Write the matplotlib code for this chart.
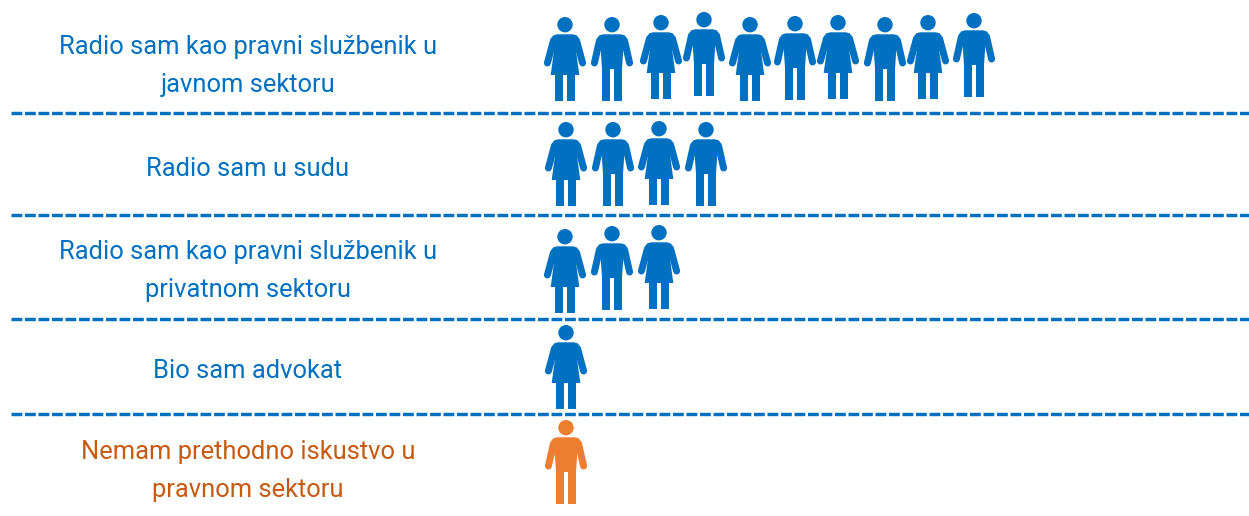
import matplotlib
matplotlib.use('Agg')
import matplotlib.pyplot as plt
from matplotlib.patches import Circle, Polygon

# 데이터
labels = ['Radio sam kao pravni službenik u\njavnom sektoru',
          'Radio sam u sudu',
          'Radio sam kao pravni službenik u\nprivatnom sektoru',
          'Bio sam advokat',
          'Nemam prethodno iskustvo u\npravnom sektoru']
counts = [10, 4, 3, 1, 1]

# 레이아웃 (픽셀 단위)
label_y = [66, 169, 271, 371, 471]
row_x = [[565, 612, 661, 704, 750, 795, 838, 885, 928, 974],
         [566, 613, 659, 706],
         [565, 612, 659],
         [566],
         [566]]
row_top = [[17, 17, 15, 12, 17, 16, 15, 17, 15, 13],
           [122, 122, 121, 122],
           [229, 226, 225],
           [325],
           [420]]
row_woman = [[1, 0, 1, 0, 1, 0, 1, 0, 1, 0],
             [1, 0, 1, 0],
             [1, 0, 1],
             [1],
             [0]]
line_y = [113, 215, 319, 414]

BLUE = '#0070C0'
ORANGE = '#ED7D31'
TEXT_ORANGE = '#C55A11'
PX = 72 / 100  # 픽셀 -> 포인트

plt.rcParams['font.family'] = ['Roboto', 'DejaVu Sans']

fig = plt.figure(figsize=(12.49, 5.16), dpi=100)
ax = fig.add_axes([0, 0, 1, 1])
ax.set_xlim(0, 1249)
ax.set_ylim(516, 0)
ax.axis('off')


def draw_person(x, top, woman, color):
    ax.add_patch(Circle((x, top + 7.7), 7.7, fc=color, ec='none'))
    # 팔
    arm_top = 11.5 if woman else 12.5
    for s in (-1, 1):
        ax.plot([x + s * arm_top, x + s * 17.6], [top + 23.5, top + 46], color=color,
                lw=7 * PX, solid_capstyle='round')
    if woman:
        body = [(-8, 17.3), (8, 17.3), (12, 18.5), (14, 22), (10.5, 30), (14.3, 58), (-14.3, 58), (-10.5, 30), (-14, 22), (-12, 18.5)]
        legs = [(-9.5, -1.7), (2.3, 10.2)]
        crotch = 57
    else:
        body = [(-9, 17.3), (9, 17.3), (13, 18.5), (15, 22), (11.5, 30), (10, 52), (-10, 52), (-11.5, 30), (-15, 22), (-13, 18.5)]
        legs = [(-10, -1.7), (1.7, 10)]
        crotch = 51
    ax.add_patch(Polygon([(x + a, top + b) for a, b in body], closed=True, fc=color, ec='none'))
    for a, b in legs:
        ax.add_patch(Polygon([(x + a, top + crotch), (x + b, top + crotch), (x + b, top + 84), (x + a, top + 84)],
                             closed=True, fc=color, ec='none'))


for i in range(len(labels)):
    color = ORANGE if i == len(labels) - 1 else BLUE
    text_color = TEXT_ORANGE if i == len(labels) - 1 else BLUE
    ax.text(248, label_y[i], labels[i], ha='center', va='center', color=text_color,
            fontsize=18.4, linespacing=1.75)
    for j in range(counts[i]):
        draw_person(row_x[i][j], row_top[i][j], row_woman[i][j], color)

for y in line_y:
    ax.plot([11, 1249], [y, y], color=BLUE, lw=3.4 * PX, solid_capstyle='butt',
            dashes=(10.8 / 3.4, 2.7 / 3.4))

fig.savefig('out.png', dpi=100)
